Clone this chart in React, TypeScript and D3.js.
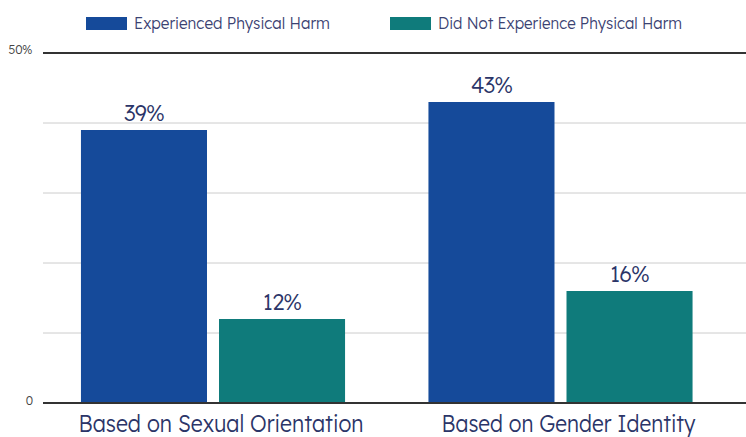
import React from "react";
import * as d3 from "d3";

const categories = ["Based on Sexual Orientation", "Based on Gender Identity"];
const seriesNames = ["Experienced Physical Harm", "Did Not Experience Physical Harm"];
const experienced = [39, 43];
const notExperienced = [12, 16];
const yTicks = [0, 10, 20, 30, 40, 50];
const colors = ["#154a9a", "#0f7b7b"];
const categoryLabelWidths = [285, 254];
const legendLabelWidths = [196, 244];
const legendX = [86, 390];

export default function App() {
  const W = 746, H = 437;
  const y = d3.scaleLinear().domain([0, 50]).range([403, 53]);
  const x0 = d3.scaleBand<string>().domain(categories).range([39.25, 734.25]).paddingInner(0.24).paddingOuter(0.12);
  const x1 = d3.scaleBand<string>().domain(seriesNames).range([0, x0.bandwidth()]).paddingInner(12 / 138);
  const values = [experienced, notExperienced];
  const font = "Lexend, Inter, 'Noto Sans', sans-serif";
  return (
    <svg width={W} height={H} style={{ position: "absolute", left: 0, top: 0, fontFamily: font }}>
      {yTicks.filter(t => t !== 0 && t !== 50).map(t => (
        <line key={t} x1={43} x2={W} y1={y(t)} y2={y(t)} stroke="#cccccc" strokeWidth={1} />
      ))}
      <line x1={43} x2={W} y1={y(50)} y2={y(50)} stroke="#333" strokeWidth={2} />
      <text x={32} y={y(50) + 1} textAnchor="end" fontSize={12} fontWeight={300} fill="#444" letterSpacing={-0.3}>50%</text>
      <text x={33} y={y(0) + 2} textAnchor="end" fontSize={12} fontWeight={300} fill="#444">0</text>
      {categories.map((c, ci) => (
        <g key={c}>
          {seriesNames.map((s, si) => {
            const v = values[si][ci];
            const bx = (x0(c) ?? 0) + (x1(s) ?? 0);
            return (
              <g key={s}>
                <rect x={bx} y={y(v)} width={x1.bandwidth()} height={y(0) - y(v)} fill={colors[si]} />
                <text x={bx + x1.bandwidth() / 2} y={y(v) - 9} textAnchor="middle" fontSize={22} fontWeight={300} fill="#2b3568" letterSpacing={-0.8}>{v}%</text>
              </g>
            );
          })}
          <text x={(x0(c) ?? 0) + x0.bandwidth() / 2 + 8} y={432} textAnchor="middle" fontSize={24} fontWeight={300} fill="#2b3568"
            textLength={categoryLabelWidths[ci]} lengthAdjust="spacingAndGlyphs">{c}</text>
        </g>
      ))}
      <line x1={43} x2={W} y1={y(0)} y2={y(0)} stroke="#333" strokeWidth={2} />
      {seriesNames.map((s, i) => {
        const lx = legendX[i];
        return (
          <g key={s}>
            <rect x={lx} y={17} width={41} height={13} fill={colors[i]} />
            <text x={lx + 48} y={29} fontSize={16} fontWeight={300} fill="#3b4272"
              textLength={legendLabelWidths[i]} lengthAdjust="spacingAndGlyphs">{s}</text>
          </g>
        );
      })}
    </svg>
  );
}
